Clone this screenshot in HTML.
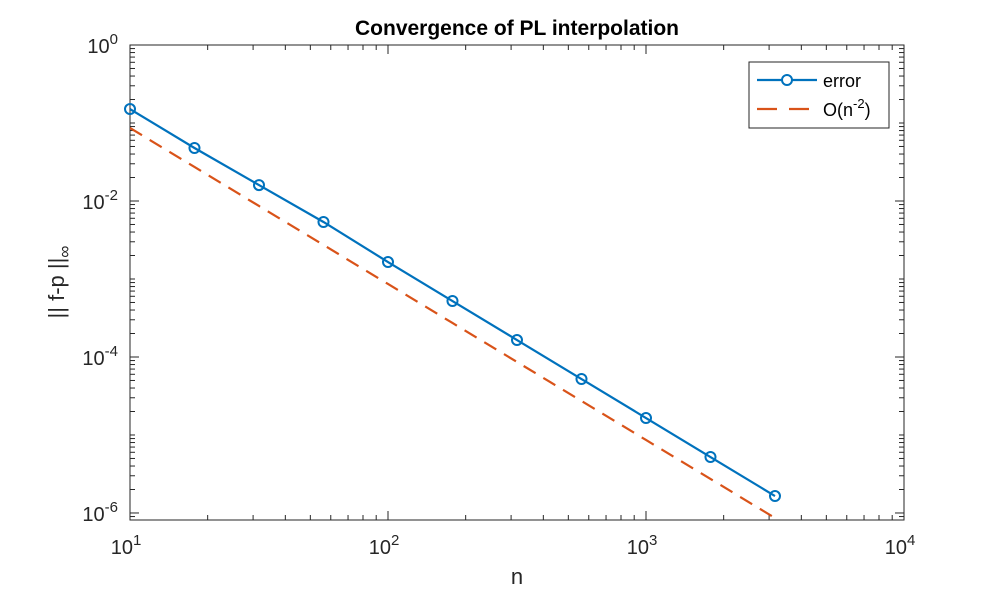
<!DOCTYPE html>
<html><head><meta charset="utf-8"><style>
body{margin:0;background:#fff;}
svg{display:block;font-family:"Liberation Sans",Arial,sans-serif;}
</style></head><body>
<svg id="chart" width="1000" height="600"></svg>
<script>
const nValues=[10,17.78,31.62,56.23,100,177.8,316.2,562.3,1000,1778,3162];
const errorValues=[0.151,0.0478,0.0160,0.00538,0.00165,5.22e-4,1.65e-4,5.22e-5,1.65e-5,5.22e-6,1.65e-6];
const refValues=[0.0863,0.0273,0.00863,0.00273,8.63e-4,2.73e-4,8.63e-5,2.73e-5,8.63e-6,2.73e-6,8.63e-7];
const xTickExps=[1,2,3,4];
const yTickExps=[0,-2,-4,-6];
const L=130,R=904,T=45,B=520;
const xmin=1,xmax=4,ymax=0,ymin=-6.09;
const X=v=>L+(Math.log10(v)-xmin)/(xmax-xmin)*(R-L);
const Y=v=>T+(ymax-Math.log10(v))/(ymax-ymin)*(B-T);
const svg=document.getElementById('chart');
const NS='http://www.w3.org/2000/svg';
function mk(tag,attrs,parent){const e=document.createElementNS(NS,tag);for(const k in attrs)e.setAttribute(k,attrs[k]);(parent||svg).appendChild(e);return e;}
const defs=mk('defs',{});const cp=mk('clipPath',{id:'clip'},defs);mk('rect',{x:L,y:T,width:R-L,height:B-T},cp);
const frame=mk('rect',{x:L,y:T,width:R-L,height:B-T,fill:'#fff',stroke:'#262626','stroke-width':1});


// x ticks
for(let d=xmin;d<xmax;d++){for(let m=1;m<10;m++){const v=m*Math.pow(10,d);const x=X(v);const len=m===1?9:5;
mk('line',{x1:x,y1:B,x2:x,y2:B-len,stroke:'#262626'});mk('line',{x1:x,y1:T,x2:x,y2:T+len,stroke:'#262626'});}}
xTickExps.forEach(e=>{const x=X(Math.pow(10,e));
const t=mk('text',{x:x-4,y:B+34,'font-size':20,'text-anchor':'middle',fill:'#262626'});


t.innerHTML='10<tspan dy="-9" font-size="15">'+e+'</tspan>';});
// y ticks
for(let d=-7;d<0;d++){for(let m=1;m<10;m++){const v=m*Math.pow(10,d);if(Math.log10(v)<ymin)continue;const y=Y(v);const len=(m===1&&d%2===0)?9:5;
mk('line',{x1:L,y1:y,x2:L+len,y2:y,stroke:'#262626'});mk('line',{x1:R,y1:y,x2:R-len,y2:y,stroke:'#262626'});}}
yTickExps.forEach(e=>{const y=Y(Math.pow(10,e));
const t=mk('text',{x:L-12,y:y+8,'font-size':20,'text-anchor':'end',fill:'#262626'});


t.innerHTML='10<tspan dy="-9" font-size="15">'+e+'</tspan>';});
// series
const g=mk('g',{'clip-path':'url(#clip)'});
const ref=mk('polyline',{points:nValues.map((n,i)=>X(n)+','+Y(refValues[i])).join(' '),fill:'none',stroke:'#D95319','stroke-width':2.2,'stroke-dasharray':'14,9'},g);


const err=mk('polyline',{points:nValues.map((n,i)=>X(n)+','+Y(errorValues[i])).join(' '),fill:'none',stroke:'#0072BD','stroke-width':2.2},g);


nValues.forEach((n,i)=>{const c=mk('circle',{cx:X(n),cy:Y(errorValues[i]),r:5,fill:'none',stroke:'#0072BD','stroke-width':2});

});
// labels
const title=mk('text',{x:517,y:35,'font-size':21,'font-weight':'bold','text-anchor':'middle',fill:'#000'});


title.textContent='Convergence of PL interpolation';
const xl=mk('text',{x:517,y:584,'font-size':22,'text-anchor':'middle',fill:'#262626'});


xl.textContent='n';
const yl=mk('text',{x:0,y:0,'font-size':22,'text-anchor':'middle',fill:'#262626',transform:'translate(64,282) rotate(-90)'});


yl.innerHTML='|| f-p ||<tspan dy="6" font-size="17">∞</tspan>';
// legend
const lg=mk('g',{});


mk('rect',{x:749,y:62,width:140,height:66,fill:'#fff',stroke:'#262626'},lg);
mk('line',{x1:757,y1:80,x2:817,y2:80,stroke:'#0072BD','stroke-width':2.2},lg);
mk('circle',{cx:787,cy:80,r:5,fill:'#fff',stroke:'#0072BD','stroke-width':2},lg);
const t1=mk('text',{x:823,y:87,'font-size':18,fill:'#000'},lg);t1.textContent='error';


mk('line',{x1:757,y1:109,x2:817,y2:109,stroke:'#D95319','stroke-width':2.2,'stroke-dasharray':'20,12'},lg);
const t2=mk('text',{x:823,y:116,'font-size':18,fill:'#000'},lg);


t2.innerHTML='O(n<tspan dy="-8" font-size="13">-2</tspan><tspan dy="8">)</tspan>';
</script>
</body></html>
